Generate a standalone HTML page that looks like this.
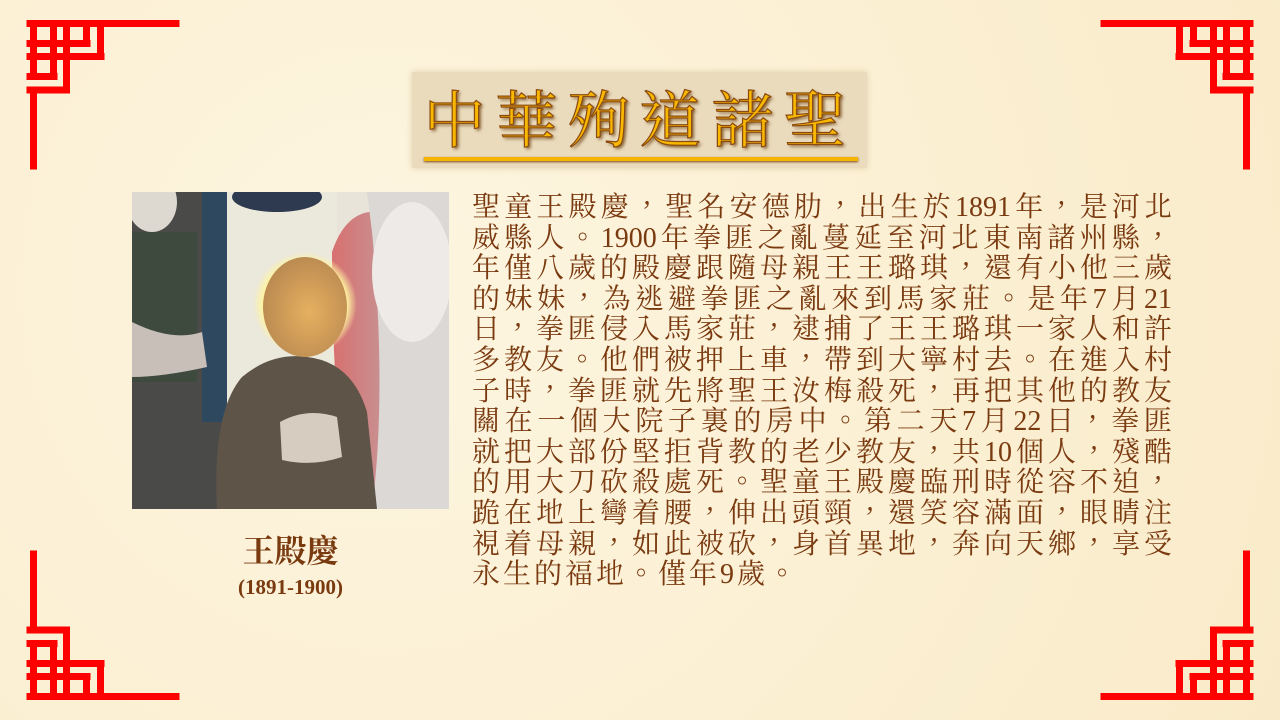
<!DOCTYPE html>
<html lang="zh-TW"><head><meta charset="utf-8"><style>
body{margin:0;width:1280px;height:720px;overflow:hidden;background:#fcf1d6;position:relative;font-family:"Liberation Serif","Noto Serif CJK SC","Noto Sans CJK TC",serif}
.bg{position:absolute;inset:0;background:radial-gradient(circle at 30% 40%,#fdf5e0 0,#fbefd2 60%,#f9ebc9 100%)}
.corner{position:absolute;width:160px;height:160px}
#title-box{position:absolute;left:412px;top:72px;width:455px;height:96px;background:#eadbbd;box-shadow:0 0 6px #e0d0a8}
#title{position:absolute;left:0;top:6px;width:455px;text-align:center;font-family:"Noto Serif CJK SC","Noto Sans CJK TC",serif;font-size:62px;line-height:76px;color:#f8b800;letter-spacing:10px;-webkit-text-stroke:1.2px #8a4a10;text-shadow:2px 2px 3px #7a5020}
#title-line{position:absolute;left:12px;top:85px;width:434px;height:4px;background:#f5b400;box-shadow:0 1px 2px #7a4a10}
#body-text{position:absolute;left:472px;top:193px;width:700px;color:#7a3a10;font-size:28px;line-height:30.6px}
#body-text div{text-align:justify;text-align-last:justify;white-space:nowrap;height:30.6px}
#body-text div.last{text-align-last:left;letter-spacing:3px}
#name{position:absolute;left:132px;top:526px;width:317px;text-align:center;color:#7a3a10;font-weight:bold;font-size:32px;font-family:"Noto Serif CJK SC","Noto Sans CJK TC",serif}
#years{position:absolute;left:132px;top:575px;width:317px;text-align:center;color:#7a3a10;font-weight:bold;font-size:21px}
</style></head><body>
<div class="bg"></div>
<svg width="0" height="0" style="position:absolute"><defs>
<g id="orn" stroke="#ff0000" stroke-width="7" fill="none" stroke-linecap="square">
<path d="M30 23.5H176M30 43.5H87M30 56.5H101M30 76.5H54M30 90H66M33.5 23.5V76.5M33.5 90V166M53.5 23.5V76.5M66.5 23.5V90M86.5 23.5V43.5M100.5 23.5V56.5"/>
</g></defs></svg>
<svg class="corner" style="left:0;top:0;width:200px;height:200px"><use href="#orn"/></svg>
<svg class="corner" style="left:1080px;top:0;width:200px;height:200px"><g transform="translate(200,0) scale(-1,1)"><use href="#orn"/></g></svg>
<svg class="corner" style="left:0;top:520px;width:200px;height:200px"><g transform="translate(0,200) scale(1,-1)"><use href="#orn"/></g></svg>
<svg class="corner" style="left:1080px;top:520px;width:200px;height:200px"><g transform="translate(200,200) scale(-1,-1)"><use href="#orn"/></g></svg>

<div id="title-box">
<div id="title">中華殉道諸聖</div>
<div id="title-line"></div>
</div>

<svg style="position:absolute;left:132px;top:192px" width="317" height="317" viewBox="0 0 317 317">
<defs>
<radialGradient id="halo" cx="0.5" cy="0.5" r="0.5"><stop offset="0.8" stop-color="#fff4a0"/><stop offset="1" stop-color="#fff4a0" stop-opacity="0"/></radialGradient>
<linearGradient id="red" x1="0" x2="1"><stop offset="0" stop-color="#d87070"/><stop offset="1" stop-color="#c89090"/></linearGradient>
<radialGradient id="face" cx="0.55" cy="0.55" r="0.6"><stop offset="0" stop-color="#e6b060"/><stop offset="1" stop-color="#b88850"/></radialGradient>
</defs>
<rect width="317" height="317" fill="#e8e4da"/>
<rect x="0" y="0" width="95" height="317" fill="#4a4a48"/>
<rect x="70" y="0" width="25" height="230" fill="#2e4860"/>
<rect x="0" y="40" width="65" height="150" fill="#3e4a3e"/>
<ellipse cx="20" cy="10" rx="25" ry="30" fill="#ddd8d0"/>
<rect x="95" y="0" width="110" height="317" fill="#ebe8dc"/>
<ellipse cx="145" cy="5" rx="45" ry="15" fill="#2e3a50"/>
<path d="M200 60 Q215 15 250 20 L250 317 L215 317 Q200 200 200 60Z" fill="url(#red)"/>
<path d="M235 0 H317 V317 H240 Q255 200 240 40Z" fill="#dcd8d6"/>
<ellipse cx="280" cy="80" rx="40" ry="70" fill="#eeeae8"/>
<path d="M0 130 Q40 150 70 140 L75 175 Q30 185 0 185Z" fill="#c8c0b8"/>
<circle cx="173" cy="112" r="52" fill="url(#halo)"/>
<path d="M85 317 Q80 220 110 185 Q140 160 175 165 Q220 170 235 220 L245 317Z" fill="#5e5448"/>
<ellipse cx="173" cy="115" rx="42" ry="50" fill="url(#face)"/>
<path d="M148 230 Q175 215 205 225 L210 265 Q180 275 150 268Z" fill="#d6ccc0"/>
</svg>
<div id="name">王殿慶</div>
<div id="years">(1891-1900)</div>

<div id="body-text">
<div>聖童王殿慶，聖名安德肋，出生於1891年，是河北</div>
<div>威縣人。1900年拳匪之亂蔓延至河北東南諸州縣，</div>
<div>年僅八歲的殿慶跟隨母親王王璐琪，還有小他三歲</div>
<div>的妹妹，為逃避拳匪之亂來到馬家莊。是年7月21</div>
<div>日，拳匪侵入馬家莊，逮捕了王王璐琪一家人和許</div>
<div>多教友。他們被押上車，帶到大寧村去。在進入村</div>
<div>子時，拳匪就先將聖王汝梅殺死，再把其他的教友</div>
<div>關在一個大院子裏的房中。第二天7月22日，拳匪</div>
<div>就把大部份堅拒背教的老少教友，共10個人，殘酷</div>
<div>的用大刀砍殺處死。聖童王殿慶臨刑時從容不迫，</div>
<div>跪在地上彎着腰，伸出頭頸，還笑容滿面，眼睛注</div>
<div>視着母親，如此被砍，身首異地，奔向天鄉，享受</div>
<div class="last">永生的福地。僅年9歲。</div>
</div>
</body></html>
